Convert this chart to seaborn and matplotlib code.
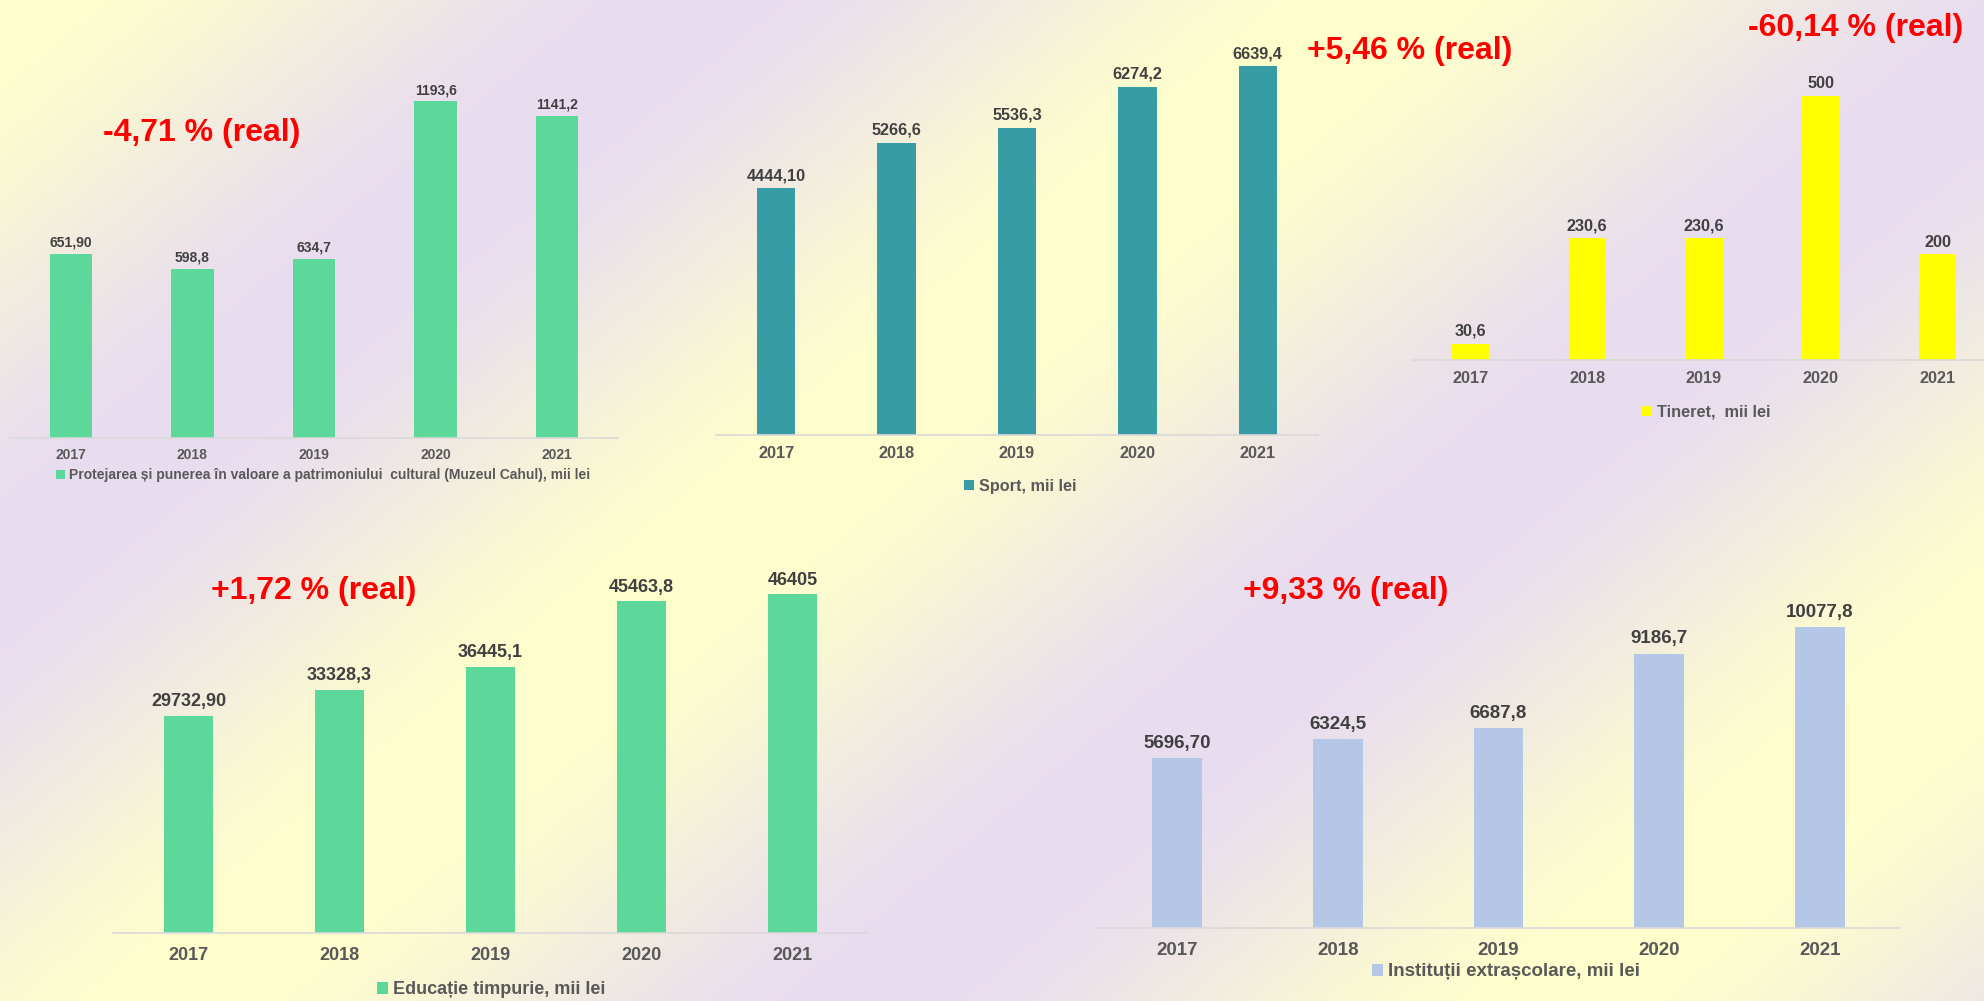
import numpy as np
import matplotlib
matplotlib.use("Agg")
import matplotlib.pyplot as plt
from matplotlib.patches import Patch
import seaborn as sns
import pandas as pd

sns.set_style("white")
plt.rcParams['font.family'] = ['Liberation Sans', 'DejaVu Sans']

# ---------------- data ----------------
years = ["2017", "2018", "2019", "2020", "2021"]

muzeu_vals = [651.90, 598.8, 634.7, 1193.6, 1141.2]
muzeu_labels = ["651,90", "598,8", "634,7", "1193,6", "1141,2"]
muzeu_name = "Protejarea și punerea în valoare a patrimoniului  cultural (Muzeul Cahul), mii lei"
muzeu_change = "-4,71 % (real)"

sport_vals = [4444.10, 5266.6, 5536.3, 6274.2, 6639.4]
sport_labels = ["4444,10", "5266,6", "5536,3", "6274,2", "6639,4"]
sport_name = "Sport, mii lei"
sport_change = "+5,46 % (real)"

tineret_vals = [30.6, 230.6, 230.6, 500, 200]
tineret_labels = ["30,6", "230,6", "230,6", "500", "200"]
tineret_name = "Tineret,  mii lei"
tineret_change = "-60,14 % (real)"

educ_vals = [29732.90, 33328.3, 36445.1, 45463.8, 46405]
educ_labels = ["29732,90", "33328,3", "36445,1", "45463,8", "46405"]
educ_name = "Educație timpurie, mii lei"
educ_change = "+1,72 % (real)"

extra_vals = [5696.70, 6324.5, 6687.8, 9186.7, 10077.8]
extra_labels = ["5696,70", "6324,5", "6687,8", "9186,7", "10077,8"]
extra_name = "Instituții extrașcolare, mii lei"
extra_change = "+9,33 % (real)"

# ---------------- figure ----------------
W, H = 1984, 1001
fig = plt.figure(figsize=(W / 100, H / 100), dpi=100)

# background gradient (diagonal bands pale yellow / lavender)
bg = fig.add_axes([0, 0, 1, 1], zorder=-10)
xx, yy = np.meshgrid(np.arange(0, W, 4), np.arange(0, H, 4))
s = xx + 1.2 * yy
t = 0.5 * (1 - np.cos(2 * np.pi * s / 1380.0))
yellow = np.array([255, 255, 204]) / 255.0
lav = np.array([232, 220, 240]) / 255.0
img = yellow[None, None, :] * (1 - t[..., None]) + lav[None, None, :] * t[..., None]
bg.imshow(img, extent=[0, W, H, 0], aspect='auto', interpolation='bilinear')
bg.set_xlim(0, W)
bg.set_ylim(H, 0)
bg.axis('off')

LABEL_C = "#404040"
TICK_C = "#595959"
AXIS_C = "#D9D9D9"
RED = "#FF0000"


def panel(left, right, base, top, ymax, vals, labels, color, width, fs, pad_lbl, tick_pad,
          name, leg_xy, leg_fs):
    ax = fig.add_axes([left / W, (H - base) / H, (right - left) / W, (base - top) / H])
    ax.set_facecolor('none')
    df = pd.DataFrame({"year": years, "value": vals})
    sns.barplot(data=df, x="year", y="value", color=color, saturation=1, width=width,
                linewidth=0, ax=ax)
    ax.set_xlim(-0.5, 4.5)
    ax.set_ylim(0, ymax)
    ax.bar_label(ax.containers[0], labels=labels, padding=pad_lbl, fontsize=fs,
                 fontweight='bold', color=LABEL_C)
    for sp in ['top', 'right', 'left']:
        ax.spines[sp].set_visible(False)
    ax.spines['bottom'].set_color(AXIS_C)
    ax.spines['bottom'].set_linewidth(1.2)
    ax.set_yticks([])
    ax.set_xlabel("")
    ax.set_ylabel("")
    ax.tick_params(axis='x', length=0, pad=tick_pad, labelsize=fs, labelcolor=TICK_C)
    for lbl in ax.get_xticklabels():
        lbl.set_fontweight('bold')
    handle = Patch(facecolor=color, edgecolor='none', label=name)
    leg = ax.legend(handles=[handle], loc='center',
                    bbox_to_anchor=(leg_xy[0] / W, 1 - leg_xy[1] / H),
                    bbox_transform=fig.transFigure, frameon=False,
                    handlelength=0.6, handleheight=0.6, handletextpad=0.3,
                    borderpad=0, borderaxespad=0,
                    prop={'size': leg_fs, 'weight': 'bold'})
    for txt in leg.get_texts():
        txt.set_color(TICK_C)
    return ax


GREEN = "#5CD89B"
TEAL = "#389CA4"
YEL = "#FFFF00"
BLUE = "#B4C7E7"

panel(10, 618, 438, 20, 1482, muzeu_vals, muzeu_labels, GREEN, 0.35, 10, 3, 7,
      muzeu_name, (323, 475), 10)
panel(716, 1318, 435, 20, 7477, sport_vals, sport_labels, TEAL, 0.32, 11.7, 3.5, 8,
      sport_name, (1020, 486), 11.7)
panel(1412, 1996, 360, 20, 644, tineret_vals, tineret_labels, YEL, 0.32, 11.7, 3.5, 8,
      tineret_name, (1706, 412), 11.7)
panel(113, 868, 933, 560, 51100, educ_vals, educ_labels, GREEN, 0.32, 13, 4, 10,
      educ_name, (491, 990), 13)
panel(1097, 1900, 928, 560, 12320, extra_vals, extra_labels, BLUE, 0.31, 13.5, 4.5, 10,
      extra_name, (1506, 972), 13.5)

# red annotations
for txt, (cx, cy) in [(muzeu_change, (202, 133)), (sport_change, (1410, 51)),
                      (tineret_change, (1856, 28)), (educ_change, (314, 591)),
                      (extra_change, (1346, 591))]:
    fig.text(cx / W, 1 - cy / H, txt, ha='center', va='center', fontsize=23,
             fontweight='bold', color=RED)

fig.savefig("out.png", dpi=100)
